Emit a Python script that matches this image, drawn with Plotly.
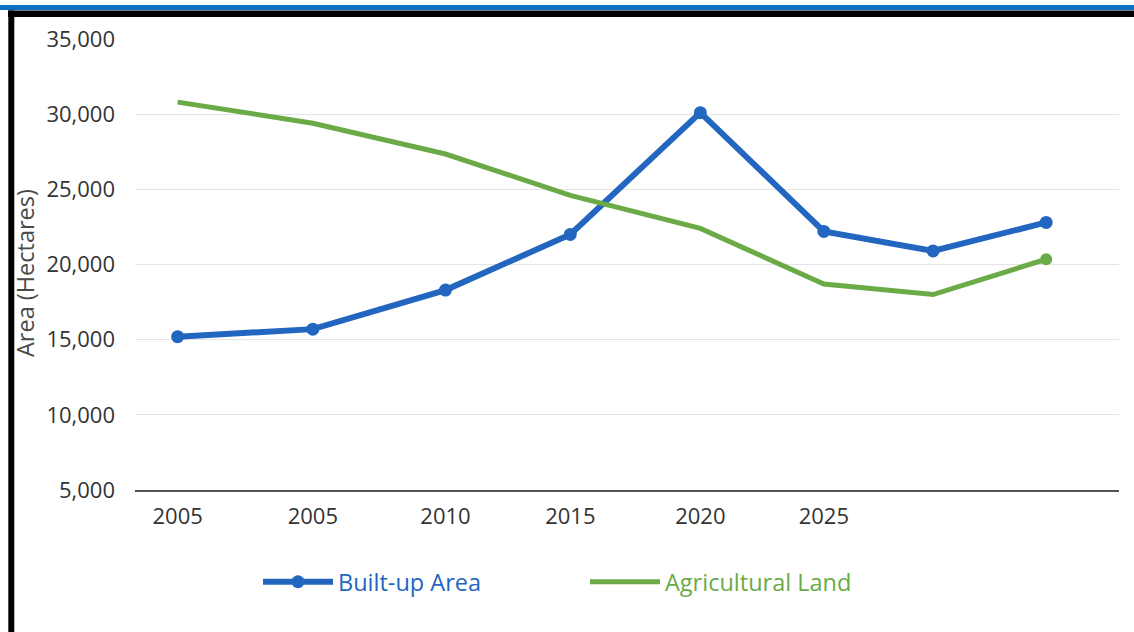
import plotly.graph_objects as go

# ---- data ----
tick_labels = ["2005", "2005", "2010", "2015", "2020", "2025"]
obs_pos = [0.0, 1.04, 2.06, 3.02, 4.02, 4.97, 5.81, 6.68]   # position of each observation along the time axis
built_up = [15200, 15700, 18300, 22000, 30100, 22200, 20900, 22800]
agricultural = [30800, 29400, 27350, 24600, 22400, 18700, 18000, 20350]

BLUE = "#2266c0"
GREEN = "#6aab47"
FONT = "Open Sans"

W, H = 1134, 632
ML, MR, MT, MB = 135, 15, 39, 142
PW, PH = W - ML - MR, H - MT - MB


def px_x(p):
    return (p - ML) / PW


def px_y(p):
    return (H - MB - p) / PH


fig = go.Figure()
fig.add_trace(go.Scatter(
    x=obs_pos, y=built_up, mode="lines+markers",
    name=f"<span style='color:{BLUE}'>Built-up Area</span>",
    line=dict(color=BLUE, width=6),
    marker=dict(color=BLUE, size=13),
))
fig.add_trace(go.Scatter(
    x=obs_pos, y=agricultural, mode="lines",
    name=f"<span style='color:{GREEN}'>Agricultural Land</span>",
    line=dict(color=GREEN, width=5),
))
fig.add_trace(go.Scatter(
    x=obs_pos[-1:], y=agricultural[-1:], mode="markers",
    marker=dict(color=GREEN, size=12), showlegend=False,
))

shapes = [
    dict(type="rect", xref="paper", yref="paper", x0=px_x(0), x1=px_x(W),
         y0=px_y(10), y1=px_y(5), fillcolor="#0a6fc2", line=dict(width=0)),
    dict(type="rect", xref="paper", yref="paper", x0=px_x(8), x1=px_x(W),
         y0=px_y(17), y1=px_y(10.5), fillcolor="#000000", line=dict(width=0)),
    dict(type="rect", xref="paper", yref="paper", x0=px_x(8.3), x1=px_x(14.3),
         y0=px_y(H), y1=px_y(10.5), fillcolor="#000000", line=dict(width=0)),
]

fig.update_layout(
    width=W, height=H, autosize=False,
    margin=dict(l=ML, r=MR, t=MT, b=MB, pad=0),
    paper_bgcolor="#ffffff", plot_bgcolor="#ffffff",
    font=dict(family=FONT, size=22, color="#333333"),
    showlegend=True,
    legend=dict(orientation="h", x=px_x(258), xanchor="left",
                y=px_y(582), yanchor="middle",
                font=dict(family=FONT, size=23.5),
                itemwidth=70, entrywidth=242,
                bgcolor="rgba(0,0,0,0)"),
    shapes=shapes,
    annotations=[dict(text="Area (Hectares)", textangle=-90, showarrow=False,
                      xref="paper", yref="paper", x=px_x(25), y=px_y(273),
                      xanchor="center", yanchor="middle",
                      font=dict(family=FONT, size=23.5, color="#4a4a4a"))],
)
fig.update_xaxes(
    range=[-0.328, 7.24], tickmode="array", tickvals=obs_pos[:len(tick_labels)],
    ticktext=tick_labels, showgrid=False, zeroline=False,
    showline=True, linecolor="#555555", linewidth=2, ticks="",
    ticklabelstandoff=6,
    tickfont=dict(family=FONT, size=22, color="#333333"),
)
fig.update_yaxes(
    range=[5000, 35000], tickmode="linear", tick0=5000, dtick=5000,
    tickformat=",", showgrid=True, gridcolor="#e4e4e4", gridwidth=1.3,
    zeroline=False, showline=False, ticks="", ticklabelstandoff=19,
    tickfont=dict(family=FONT, size=22, color="#333333"),
)

fig.write_html("out.html")
